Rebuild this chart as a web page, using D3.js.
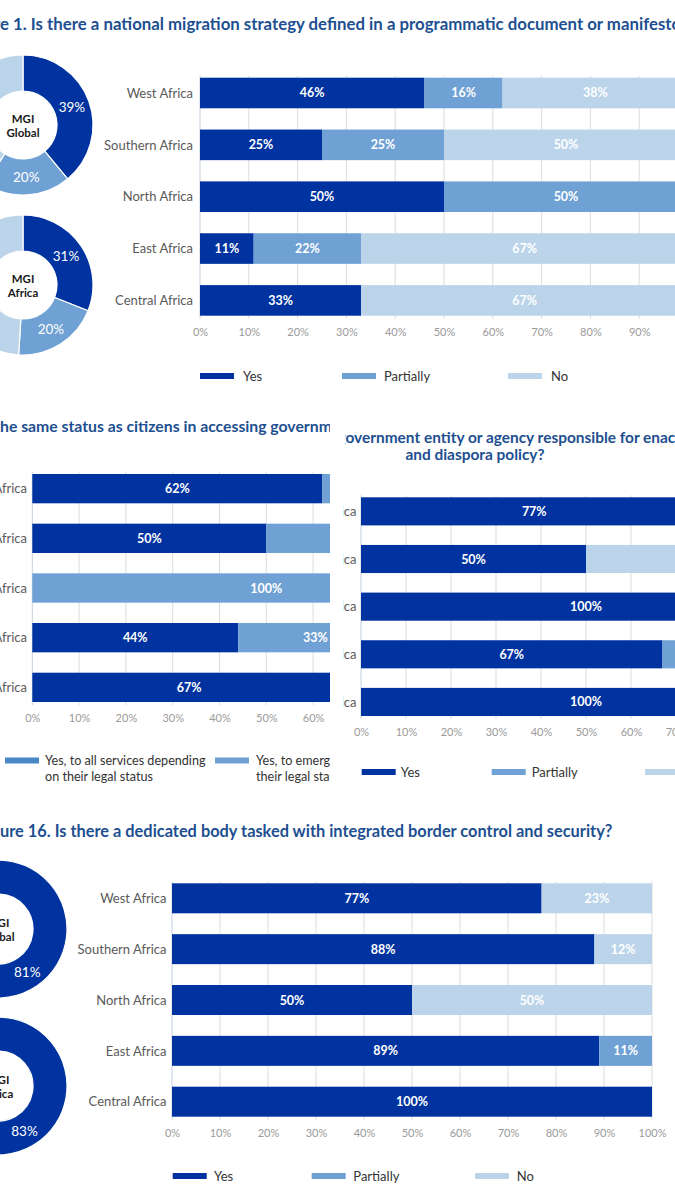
<!DOCTYPE html>
<html>
<head>
<meta charset="utf-8">
<script src="https://cdn.jsdelivr.net/npm/d3@7"></script>
<style>
  html, body { margin: 0; padding: 0; background: #fff; }
  svg { display: block; }
</style>
</head>
<body>
<svg id="chart" width="675" height="1200"></svg>
<script>
// ---------------- DATA ----------------
const regions = ["West Africa", "Southern Africa", "North Africa", "East Africa", "Central Africa"];
const tickValues = [0, 10, 20, 30, 40, 50, 60, 70, 80, 90, 100];

// Figure 1: national migration strategy
const stratKeys = ["Yes", "Partially", "No"];
const stratYes = [46, 25, 50, 11, 33];
const stratPartially = [16, 25, 50, 22, 0];
const stratNo = [38, 50, 0, 67, 67];
const stratGlobal = [39, 20, 41];
const stratAfrica = [31, 20, 49];

// Access to government services (cropped chart)
const accessKeys = ["Yes, to all services", "Yes, to emergency services depending on their legal status", "No"];
const accessAll = [62, 50, 0, 44, 67];
const accessEmergency = [38, 50, 100, 33, 33];
const accessNo = [0, 0, 0, 23, 0];
const accessLegendLabels = [
  ["Yes, to all services depending", "on their legal status"],
  ["Yes, to emergency", "their legal status"]
];

// Government entity for emigration & diaspora policy (cropped chart)
const agencyKeys = ["Yes", "Partially", "No"];
const agencyYes = [77, 50, 100, 67, 100];
const agencyPartially = [0, 0, 0, 33, 0];
const agencyNo = [23, 50, 0, 0, 0];

// Figure 16: dedicated border body
const borderKeys = ["Yes", "Partially", "No"];
const borderYes = [77, 88, 50, 89, 100];
const borderPartially = [0, 0, 0, 11, 0];
const borderNo = [23, 12, 50, 0, 0];
const borderGlobal = [81, 0, 19];
const borderAfrica = [83, 0, 17];

const donutNames = [["MGI", "Global"], ["MGI", "Africa"]];

// ---------------- STYLE ----------------
const C_DARK = "#0033A0", C_MID = "#6FA1D5", C_LIGHT = "#BBD4EA", C_MID2 = "#4A88C8";
const FONT = "Lato, 'Open Sans', sans-serif";
const TITLE_COLOR = "#1D4F91";

const svg = d3.select("#chart");
const defs = svg.append("defs");
defs.append("clipPath").attr("id", "clipL").append("rect").attr("x", 0).attr("y", 395).attr("width", 330).attr("height", 410);
defs.append("clipPath").attr("id", "clipR").append("rect").attr("x", 343).attr("y", 395).attr("width", 332).attr("height", 410);
defs.append("clipPath").attr("id", "clipRT").append("rect").attr("x", 345).attr("y", 395).attr("width", 330).attr("height", 80);

function title(g, text, visStart, visEnd, startX, baseY, targetW) {
  const t = g.append("text").attr("y", baseY).attr("font-family", FONT).attr("font-weight", 700)
    .attr("font-size", 14).attr("fill", TITLE_COLOR).text(text);
  const node = t.node();
  const w = node.getSubStringLength(visStart, visEnd - visStart);
  const fs = 14 * targetW / w;
  t.attr("font-size", fs);
  const off = visStart > 0 ? node.getSubStringLength(0, visStart) : 0;
  t.attr("x", startX - off);
  return fs;
}

function barChart(g, o) {
  const rows = regions.map((r, i) => {
    const row = { region: r };
    o.keys.forEach((k, j) => row[k] = o.values[j][i]);
    return row;
  });
  const x = d3.scaleLinear().domain([0, 100]).range(o.xRange);
  const y = d3.scaleBand().domain(regions).range(o.yRange).paddingInner(0.41).paddingOuter(0);
  // grid
  g.append("g").selectAll("line").data(tickValues).join("line")
    .attr("x1", d => x(d)).attr("x2", d => x(d))
    .attr("y1", o.yRange[0] - 2).attr("y2", o.yRange[1] + 3)
    .attr("stroke", d => d === 0 ? "#C5D0DE" : "#DCDCDC").attr("stroke-width", 1);
  // bars
  const stack = d3.stack().keys(o.keys)(rows);
  const layers = g.append("g").selectAll("g").data(stack).join("g").attr("fill", (d, i) => o.colors[i]);
  layers.selectAll("rect").data(d => d.filter(s => s[1] - s[0] > 0)).join("rect")
    .attr("x", d => x(d[0])).attr("width", d => x(d[1]) - x(d[0]))
    .attr("y", d => y(d.data.region)).attr("height", y.bandwidth());
  // values
  const labels = g.append("g");
  stack.forEach(layer => {
    layer.forEach(s => {
      const v = s[1] - s[0];
      if (v <= 0) return;
      labels.append("text").attr("x", x((s[0] + s[1]) / 2)).attr("y", y(s.data.region) + y.bandwidth() / 2)
        .attr("dy", "0.36em").attr("text-anchor", "middle").attr("fill", "#fff")
        .attr("font-family", FONT).attr("font-size", 12.5).attr("font-weight", 700).text(v + "%");
    });
  });
  // category labels
  g.append("g").selectAll("text").data(regions).join("text")
    .attr("x", o.labelX).attr("y", d => y(d) + y.bandwidth() / 2).attr("dy", "0.36em")
    .attr("text-anchor", "end").attr("fill", "#5A5A5A").attr("font-family", FONT).attr("font-size", 13).text(d => d);
  // axis
  const ax = g.append("g").attr("transform", `translate(0,${o.tickY - 4})`)
    .call(d3.axisBottom(x).tickValues(tickValues).tickFormat(d => d + "%").tickSize(0).tickPadding(0));
  ax.select(".domain").remove();
  ax.selectAll("text").attr("fill", "#9A9A9A").attr("font-family", FONT).attr("font-size", 11);
}

function legend(g, items, y, fs) {
  items.forEach(it => {
    g.append("rect").attr("x", it.x).attr("y", y - 3).attr("width", 34).attr("height", 6).attr("fill", it.color);
    const lines = Array.isArray(it.label) ? it.label : [it.label];
    lines.forEach((l, i) => {
      g.append("text").attr("x", it.tx).attr("y", y + i * 15.5).attr("dy", "0.36em")
        .attr("fill", "#333").attr("font-family", FONT).attr("font-size", fs || 13).text(l);
    });
  });
}

function donut(g, values, colors, cx, cy, rIn, rOut, names) {
  const pie = d3.pie().sort(null).value(d => d);
  const arc = d3.arc().innerRadius(rIn).outerRadius(rOut);
  const lab = d3.arc().innerRadius(52).outerRadius(52);
  const gg = g.append("g").attr("transform", `translate(${cx},${cy})`);
  const arcs = pie(values);
  gg.selectAll("path").data(arcs.filter(a => a.value > 0)).join("path")
    .attr("d", arc).attr("fill", d => colors[d.index]).attr("stroke", "#fff").attr("stroke-width", 1.2);
  gg.selectAll("text.v").data(arcs.filter(a => a.value > 0)).join("text").attr("class", "v")
    .attr("transform", d => `translate(${lab.centroid(d)})`).attr("dy", "0.36em").attr("text-anchor", "middle")
    .attr("fill", "#fff").attr("font-family", FONT).attr("font-size", 13.5).text(d => d.value + "%");
  names.forEach((n, i) => {
    gg.append("text").attr("x", 0).attr("y", i === 0 ? -6 : 8).attr("dy", "0.36em").attr("text-anchor", "middle")
      .attr("fill", "#1a1a1a").attr("font-family", FONT).attr("font-weight", 700).attr("font-size", 11.5).text(n);
  });
}

const colors3 = [C_DARK, C_MID, C_LIGHT];

// ---------------- SECTION 1 ----------------
const s1 = svg.append("g");
{
  const txt = "Figure 1. Is there a national migration strategy defined in a programmatic document or manifesto?";
  const vs = txt.indexOf("e 1.");
  title(s1, txt, vs, txt.indexOf("manifesto") + 8, 0, 30, 672);
}
donut(s1, stratGlobal, colors3, 23, 125, 34, 70, donutNames[0]);
donut(s1, stratAfrica, colors3, 23, 285, 34, 70, donutNames[1]);
barChart(s1, { keys: stratKeys, values: [stratYes, stratPartially, stratNo], colors: colors3,
  xRange: [200, 688], yRange: [77.7, 315.7], labelX: 193, tickY: 332 });
legend(s1, [
  { x: 200, tx: 243, color: C_DARK, label: stratKeys[0] },
  { x: 342, tx: 384, color: C_MID, label: stratKeys[1] },
  { x: 508, tx: 551, color: C_LIGHT, label: stratKeys[2] }
], 376);

// ---------------- SECTION 2 LEFT ----------------
const s2L = svg.append("g").attr("clip-path", "url(#clipL)");
{
  const txt = "Do migrants have the same status as citizens in accessing government";
  const vs = txt.indexOf("he same");
  title(s2L, txt, vs, txt.indexOf("government") + 7, 0, 432, 332);
}
barChart(s2L, { keys: accessKeys, values: [accessAll, accessEmergency, accessNo], colors: [C_DARK, C_MID, C_LIGHT],
  xRange: [32.3, 500.3], yRange: [474, 702], labelX: 27, tickY: 718 });
legend(s2L, [
  { x: 5, tx: 45, color: C_MID2, label: accessLegendLabels[0] },
  { x: 215, tx: 256, color: C_MID, label: accessLegendLabels[1] }
], 760.5, 12.6);

// ---------------- SECTION 2 RIGHT ----------------
const s2RT = svg.append("g").attr("clip-path", "url(#clipRT)");
{
  const txt = "Is there a dedicated government entity or agency responsible for enacting emigration";
  const vs = txt.indexOf("overnment");
  const fs = title(s2RT, txt, vs, txt.indexOf("enacting") + 4, 345.5, 443, 330);
  s2RT.append("text").attr("x", 475).attr("y", 460).attr("text-anchor", "middle")
    .attr("font-family", FONT).attr("font-weight", 700).attr("fill", TITLE_COLOR)
    .attr("font-size", fs).text("and diaspora policy?");
}
const s2R = svg.append("g").attr("clip-path", "url(#clipR)");
barChart(s2R, { keys: agencyKeys, values: [agencyYes, agencyPartially, agencyNo], colors: colors3,
  xRange: [361, 811], yRange: [497.3, 716], labelX: 356.5, tickY: 732 });
legend(s2R, [
  { x: 361.7, tx: 400.7, color: C_DARK, label: agencyKeys[0] },
  { x: 491.7, tx: 531.7, color: C_MID, label: agencyKeys[1] },
  { x: 645, tx: 688, color: C_LIGHT, label: agencyKeys[2] }
], 772);

// ---------------- SECTION 3 ----------------
const s3 = svg.append("g");
{
  const txt = "Figure 16. Is there a dedicated body tasked with integrated border control and security?";
  const vs = txt.indexOf("ure 16");
  title(s3, txt, vs, txt.length, 0, 837, 613);
}
donut(s3, borderGlobal, colors3, -2, 929, 35, 69, donutNames[0]);
donut(s3, borderAfrica, colors3, -2, 1086, 35, 69, donutNames[1]);
barChart(s3, { keys: borderKeys, values: [borderYes, borderPartially, borderNo], colors: colors3,
  xRange: [172, 652], yRange: [883.3, 1116.7], labelX: 166.5, tickY: 1133 });
legend(s3, [
  { x: 172.7, tx: 214, color: C_DARK, label: borderKeys[0] },
  { x: 311.7, tx: 353.3, color: C_MID, label: borderKeys[1] },
  { x: 475, tx: 516.7, color: C_LIGHT, label: borderKeys[2] }
], 1176);
</script>
</body>
</html>
